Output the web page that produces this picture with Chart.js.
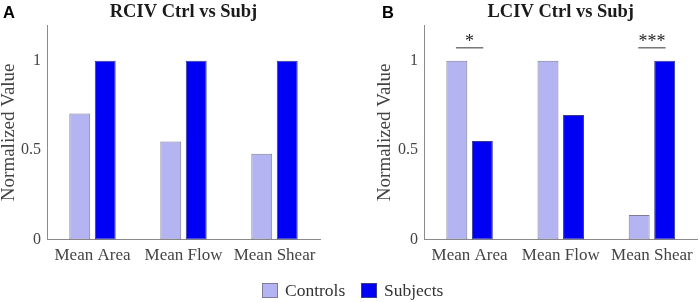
<!DOCTYPE html>
<html>
<head>
<meta charset="utf-8">
<script src="https://cdn.jsdelivr.net/npm/chart.js@4.4.1/dist/chart.umd.min.js"></script>
<style>
  html, body { margin: 0; padding: 0; background: #fff; }
  body { width: 699px; height: 302px; position: relative; overflow: hidden; }
  canvas { position: absolute; top: 0; left: 0; }
  .panel { position: absolute; font-family: 'Liberation Sans', Arial, sans-serif; font-weight: bold; font-size: 16.5px; color: #000; line-height: 1; }
</style>
</head>
<body>
<canvas id="c1" width="350" height="272"></canvas>
<canvas id="c2" width="699" height="302"></canvas>
<div class="panel" style="left:3px; top:4px;">A</div>
<div class="panel" style="left:382px; top:4px;">B</div>
<script>
// ---- data ----
const categories = ['Mean Area', 'Mean Flow', 'Mean Shear'];
const seriesNames = ['Controls', 'Subjects'];
const rcivControls = [0.705, 0.548, 0.48];
const rcivSubjects = [1, 1, 1];
const lcivControls = [1, 1, 0.138];
const lcivSubjects = [0.552, 0.697, 1];
const rcivSignificance = ['', '', ''];
const lcivSignificance = ['*', '', '***'];
const significanceLevel = 1.075;
const yTicks = [0, 0.5, 1];
const yMax = 1.2;
const titles = ['RCIV Ctrl vs Subj', 'LCIV Ctrl vs Subj'];
const yTitle = 'Normalized Value';

const SERIF = '"Liberation Serif", "Times New Roman", serif';
const ctrlColor = '#b4b4f2';
const subjColor = '#0000f5';
const ctrlBorder = '#7c7c98';
const subjBorder = '#3a3a8a';

const sigPlugin = {
  id: 'sig',
  afterDatasetsDraw(chart, args, opts) {
    const marks = opts.marks || [];
    const {ctx, scales: {x, y}} = chart;
    const yPix = y.getPixelForValue(opts.level);
    const half = (x.getPixelForValue(1) - x.getPixelForValue(0)) * 0.15;
    ctx.save();
    marks.forEach((m, i) => {
      if (!m) return;
      const cx = x.getPixelForValue(i);
      ctx.strokeStyle = '#333';
      ctx.lineWidth = 1;
      ctx.beginPath();
      ctx.moveTo(cx - half, yPix + 0.5);
      ctx.lineTo(cx + half, yPix + 0.5);
      ctx.stroke();
      ctx.fillStyle = '#222';
      ctx.font = '18px ' + SERIF;
      ctx.textAlign = 'center';
      ctx.textBaseline = 'alphabetic';
      ctx.fillText(m, cx, yPix);
    });
    ctx.restore();
  }
};

// shared legend drawn once, below both panels
const legendPlugin = {
  id: 'sharedLegend',
  afterDraw(chart, args, opts) {
    if (!opts.items) return;
    const ctx = chart.ctx;
    ctx.save();
    ctx.font = '17.5px ' + SERIF;
    ctx.textBaseline = 'middle';
    ctx.textAlign = 'left';
    opts.items.forEach(it => {
      ctx.fillStyle = it.fill;
      ctx.fillRect(it.x, opts.y, 16, 15);
      ctx.strokeStyle = it.border;
      ctx.lineWidth = 1;
      ctx.strokeRect(it.x + 0.5, opts.y + 0.5, 15, 14);
      ctx.fillStyle = '#333';
      ctx.fillText(it.text, it.x + 23, opts.y + 8);
    });
    ctx.restore();
  }
};

function makeChart(id, title, ctrl, subj, marks, pad, axisWidth, legendItems) {
  return new Chart(document.getElementById(id), {
    type: 'bar',
    data: {
      labels: categories,
      datasets: [
        { label: seriesNames[0], data: ctrl, backgroundColor: ctrlColor, borderColor: ctrlBorder, borderWidth: 1, borderSkipped: false },
        { label: seriesNames[1], data: subj, backgroundColor: subjColor, borderColor: subjBorder, borderWidth: 1, borderSkipped: false }
      ]
    },
    options: {
      responsive: false,
      animation: false,
      devicePixelRatio: 1,
      categoryPercentage: 0.56,
      barPercentage: 0.82,
      layout: { padding: pad },
      plugins: {
        legend: { display: false },
        tooltip: { enabled: false },
        title: {
          display: true, text: title, fullSize: false,
          color: '#1a1a1a',
          font: { family: SERIF, size: 18.5, weight: 'bold', lineHeight: 1.2 },
          padding: { top: 1, bottom: 1.8 }
        },
        sig: { marks: marks, level: significanceLevel },
        sharedLegend: { items: legendItems, y: 283 }
      },
      scales: {
        x: {
          offset: true,
          grid: { display: false, drawTicks: false },
          border: { display: true, color: '#8a8a8a', width: 1 },
          ticks: { color: '#444', padding: 6, font: { family: SERIF, size: 17, lineHeight: 1.2 }, maxRotation: 0, autoSkip: false }
        },
        y: {
          min: 0, max: yMax,
          grid: { display: false, drawTicks: false },
          border: { display: true, color: '#8a8a8a', width: 1 },
          afterBuildTicks: s => { s.ticks = yTicks.map(v => ({ value: v })); },
          afterFit: s => { s.width = axisWidth; },
          ticks: { color: '#444', padding: 6, font: { family: SERIF, size: 16 }, callback: v => String(v) },
          title: {
            display: true, text: yTitle, color: '#444',
            font: { family: SERIF, size: 19, lineHeight: 1 },
            padding: 0
          }
        }
      }
    },
    plugins: [sigPlugin, legendPlugin]
  });
}

makeChart('c1', titles[0], rcivControls, rcivSubjects, rcivSignificance,
  { left: 0, right: 30, top: 0, bottom: 0 }, 47, null);
makeChart('c2', titles[1], lcivControls, lcivSubjects, lcivSignificance,
  { left: 376, right: 1, top: 0, bottom: 30 }, 48,
  [
    { text: seriesNames[0], x: 262, fill: ctrlColor, border: ctrlBorder },
    { text: seriesNames[1], x: 361, fill: subjColor, border: subjBorder }
  ]);
</script>
</body>
</html>
